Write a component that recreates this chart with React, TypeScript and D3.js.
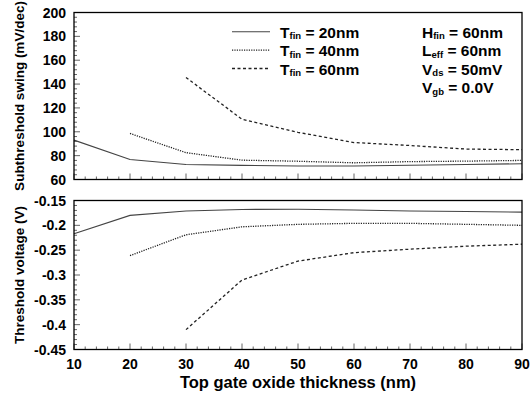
import React from "react";
import * as d3 from "d3";

const thickness = [10, 20, 30, 40, 50, 60, 70, 80, 90];

// Subthreshold swing (mV/dec)
const ssT20: (number | null)[] = [93, 76.8, 72.6, 71.8, 71.3, 71.3, 72, 72.6, 73.2];
const ssT40: (number | null)[] = [null, 98.6, 82.5, 76.2, 75.3, 74, 75, 75.4, 76];
const ssT60: (number | null)[] = [null, null, 145.5, 110.5, 99.5, 91, 88.5, 85.5, 85];

// Threshold voltage (V)
const vtT20: (number | null)[] = [-0.217, -0.18, -0.171, -0.168, -0.1675, -0.169, -0.171, -0.172, -0.1735];
const vtT40: (number | null)[] = [null, -0.261, -0.219, -0.203, -0.198, -0.196, -0.196, -0.198, -0.2];
const vtT60: (number | null)[] = [null, null, -0.41, -0.31, -0.272, -0.255, -0.248, -0.242, -0.238];

const xTicks = [10, 20, 30, 40, 50, 60, 70, 80, 90];
const ssTicks = [60, 80, 100, 120, 140, 160, 180, 200];
const vtTicks = [-0.45, -0.4, -0.35, -0.3, -0.25, -0.2, -0.15];
const vtTickLabels = ["-0.45", "-0.4", "-0.35", "-0.3", "-0.25", "-0.2", "-0.15"];

const legendLabels = ["20nm", "40nm", "60nm"];

const W = 532;
const H = 396;
const left = 74;
const right = 522;
const top1 = 12.5;
const bot1 = 179.5;
const top2 = 200.5;
const bot2 = 349.5;

const FONT = "'Liberation Sans', Arial, Helvetica, sans-serif";
const styles = [
  { dash: undefined, color: "#444", width: 1.1 },
  { dash: "1.2,1.2", color: "#222", width: 1.3 },
  { dash: "3,2.5", color: "#222", width: 1.3 },
];

export default function App() {
  const x = d3.scaleLinear().domain([10, 90]).range([left, right]);
  const y1 = d3.scaleLinear().domain([60, 200]).range([bot1, top1]);
  const y2 = d3.scaleLinear().domain([-0.45, -0.15]).range([bot2, top2]);

  const mk = (ys: d3.ScaleLinear<number, number>) =>
    d3
      .line<[number, number | null]>()
      .defined((d) => d[1] !== null)
      .x((d) => x(d[0]))
      .y((d) => ys(d[1] as number));

  const ssSeries = [ssT20, ssT40, ssT60];
  const vtSeries = [vtT20, vtT40, vtT60];

  const xMinor = d3.range(10, 90.001, 2);
  const ssMinor = d3.range(60, 200.001, 4);
  const vtMinor = d3.range(-0.45, -0.1499, 0.01);

  const sub = (main: string, s: string, rest: string, xx: number, yy: number, key: string) => (
    <text key={key} x={xx} y={yy} fontFamily={FONT} fontWeight="bold" fontSize={15.5} fill="#000">
      {main}
      <tspan fontSize={9.5} dy={1.5}>{s}</tspan>
      <tspan dy={-1.5}>{rest}</tspan>
    </text>
  );

  return (
    <svg width={W} height={H} style={{ position: "absolute", left: 0, top: 0, background: "#fff" }}>
      <rect x={0} y={0} width={W} height={H} fill="#fff" />
      {/* Top panel */}
      <g>
        {xMinor.map((v, i) => {
          const major = Math.abs((v - 10) % 10) < 1e-6;
          return (
            <line key={"t1x" + i} x1={x(v)} x2={x(v)} y1={bot1} y2={bot1 - (major ? 6 : 3)} stroke="#666" strokeWidth={1} />
          );
        })}
        {ssMinor.map((v, i) => {
          const major = Math.abs((v - 60) % 20) < 1e-6;
          return (
            <line key={"t1y" + i} x1={left} x2={left + (major ? 6 : 3)} y1={y1(v)} y2={y1(v)} stroke="#666" strokeWidth={1} />
          );
        })}
        {ssSeries.map((s, i) => (
          <path
            key={"ss" + i}
            d={mk(y1)(thickness.map((t, j) => [t, s[j]]))!}
            fill="none"
            stroke={styles[i].color}
            strokeWidth={styles[i].width}
            strokeDasharray={styles[i].dash}
          />
        ))}
        <rect x={left} y={top1} width={right - left} height={bot1 - top1} fill="none" stroke="#000" strokeWidth={1.3} />
        {ssTicks.map((v) => (
          <text key={"ssl" + v} x={66} y={y1(v) + 5} textAnchor="end" fontFamily={FONT} fontWeight="bold" fontSize={14}>
            {v}
          </text>
        ))}
        <text
          transform={`translate(24,${(top1 + bot1) / 2}) rotate(-90)`}
          textAnchor="middle"
          fontFamily={FONT}
          fontWeight="bold"
          fontSize={13.5}
        >
          Subthreshold swing (mV/dec)
        </text>
        {legendLabels.map((lab, i) => {
          const ly = 31.7 + i * 18.4;
          return (
            <g key={"lg" + i}>
              <line x1={232} x2={270} y1={ly} y2={ly} stroke={styles[i].color} strokeWidth={styles[i].width} strokeDasharray={styles[i].dash} />
              {sub("T", "fin", " = " + lab, 280, ly + 6, "lgt" + i)}
            </g>
          );
        })}
        {sub("H", "fin", " = 60nm", 422, 37.7, "p1")}
        {sub("L", "eff", " = 60nm", 422, 56.2, "p2")}
        {sub("V", "ds", " = 50mV", 422, 74.7, "p3")}
        {sub("V", "gb", " = 0.0V", 422, 93.2, "p4")}
      </g>

      {/* Bottom panel */}
      <g>
        {xMinor.map((v, i) => {
          const major = Math.abs((v - 10) % 10) < 1e-6;
          return (
            <line key={"t2x" + i} x1={x(v)} x2={x(v)} y1={bot2} y2={bot2 - (major ? 6 : 3)} stroke="#666" strokeWidth={1} />
          );
        })}
        {vtMinor.map((v, i) => {
          const major = i % 5 === 0;
          return (
            <line key={"t2y" + i} x1={left} x2={left + (major ? 6 : 3)} y1={y2(v)} y2={y2(v)} stroke="#666" strokeWidth={1} />
          );
        })}
        {vtSeries.map((s, i) => (
          <path
            key={"vt" + i}
            d={mk(y2)(thickness.map((t, j) => [t, s[j]]))!}
            fill="none"
            stroke={styles[i].color}
            strokeWidth={styles[i].width}
            strokeDasharray={styles[i].dash}
          />
        ))}
        <rect x={left} y={top2} width={right - left} height={bot2 - top2} fill="none" stroke="#000" strokeWidth={1.3} />
        {vtTicks.map((v, i) => (
          <text key={"vtl" + i} x={66} y={y2(v) + 5} textAnchor="end" fontFamily={FONT} fontWeight="bold" fontSize={14}>
            {vtTickLabels[i]}
          </text>
        ))}
        <text
          transform={`translate(24,${(top2 + bot2) / 2}) rotate(-90)`}
          textAnchor="middle"
          fontFamily={FONT}
          fontWeight="bold"
          fontSize={13.5}
        >
          Threshold voltage (V)
        </text>
        {xTicks.map((v) => (
          <text key={"xl" + v} x={x(v)} y={369} textAnchor="middle" fontFamily={FONT} fontWeight="bold" fontSize={14}>
            {v}
          </text>
        ))}
        <text x={(left + right) / 2} y={388} textAnchor="middle" fontFamily={FONT} fontWeight="bold" fontSize={16.5}>
          Top gate oxide thickness (nm)
        </text>
      </g>
    </svg>
  );
}
